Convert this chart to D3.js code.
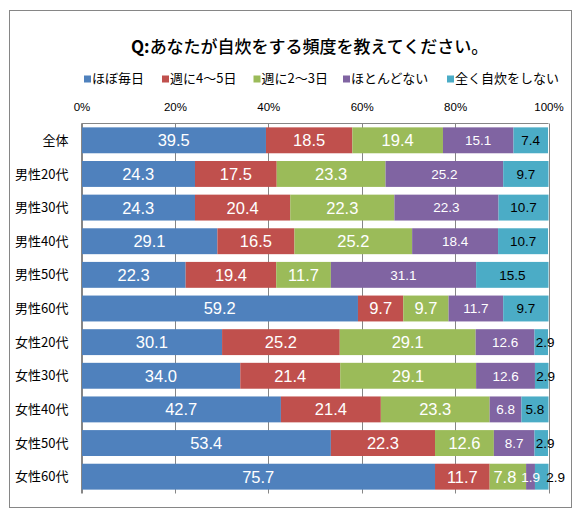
<!DOCTYPE html>
<html><head><meta charset="utf-8">
<script src="https://cdn.jsdelivr.net/npm/d3@7/dist/d3.min.js"></script>
<style>
html,body{margin:0;padding:0;background:#fff;}
svg{display:block;}
</style></head>
<body><svg id="c" width="583" height="515"></svg>
<script>
const title = "Q:あなたが自炊をする頻度を教えてください。";
const categories = ["全体","男性20代","男性30代","男性40代","男性50代","男性60代","女性20代","女性30代","女性40代","女性50代","女性60代"];
const seriesNames = ["ほぼ毎日","週に4〜5日","週に2〜3日","ほとんどない","全く自炊をしない"];
const seriesColors = ["#4F81BD","#C0504D","#9BBB59","#8064A2","#4BACC6"];
const daily   = [39.5,24.3,24.3,29.1,22.3,59.2,30.1,34.0,42.7,53.4,75.7];
const w4to5   = [18.5,17.5,20.4,16.5,19.4,9.7,25.2,21.4,21.4,22.3,11.7];
const w2to3   = [19.4,23.3,22.3,25.2,11.7,9.7,29.1,29.1,23.3,12.6,7.8];
const rarely  = [15.1,25.2,22.3,18.4,31.1,11.7,12.6,12.6,6.8,8.7,1.9];
const never   = [7.4,9.7,10.7,10.7,15.5,9.7,2.9,2.9,5.8,2.9,2.9];
const tickValues = [0,20,40,60,80,100];

(function(){
const values = [daily,w4to5,w2to3,rarely,never];
const svg = d3.select("#c");
const JP = "'Noto Sans CJK JP','Noto Sans',sans-serif";
const NUM = "'Liberation Sans',Arial,sans-serif";

// outer border
svg.append("rect").attr("x",9.5).attr("y",10.5).attr("width",562).attr("height",497)
  .attr("fill","#fff").attr("stroke","#868686").attr("stroke-width",1);

const pL = 81.5, pR = 548.5, pT = 123.5, pB = 493.5;
const x = d3.scaleLinear().domain([0,100]).range([pL,pR]);
const y = d3.scaleBand().domain(categories).range([pT,pB]).paddingInner(0.23).paddingOuter(0.115);

// title
const t = svg.append("text").attr("x",131).attr("y",53).attr("font-family",JP).attr("font-size",17).attr("fill","#000");
t.append("tspan").attr("font-weight","bold").text(title.slice(0,2));
t.append("tspan").attr("font-weight","500").text(title.slice(2));

// legend
const legX = [84,162,253.5,343,447];
seriesNames.forEach((n,i)=>{
  svg.append("rect").attr("x",legX[i]).attr("y",75.5).attr("width",7).attr("height",7).attr("fill",seriesColors[i]);
  svg.append("text").attr("x",legX[i]+8).attr("y",83).attr("font-family",JP).attr("font-size",13).text(n);
});

// gridlines
svg.append("g").selectAll("line").data(tickValues).join("line")
  .attr("x1",d=>Math.round(x(d))+0.5).attr("x2",d=>Math.round(x(d))+0.5)
  .attr("y1",pT).attr("y2",pB).attr("stroke","#868686").attr("stroke-width",1);
svg.append("line").attr("x1",pL).attr("x2",pR).attr("y1",pT).attr("y2",pT).attr("stroke","#868686");

// top axis labels
const axis = d3.axisTop(x).tickValues(tickValues).tickFormat(d=>d+"%").tickSize(0).tickPadding(0);
const ag = svg.append("g").attr("transform",`translate(0,111)`).call(axis);
ag.select(".domain").remove();
ag.selectAll("text").attr("font-family",NUM).attr("font-size",11.5).attr("fill","#000").attr("dy","0");

// category axis
const yAxis = d3.axisLeft(y).tickSize(0).tickPadding(13);
const yg = svg.append("g").attr("transform",`translate(${pL},0)`).call(yAxis);
yg.select(".domain").remove();
yg.selectAll("text").attr("font-family",JP).attr("font-size",13).attr("fill","#000").attr("dy","0.35em");

// stacked bars
const rows = categories.map((c,ci)=>{
  let cum = 0;
  return values.map((arr,si)=>{ const v = arr[ci]; const seg = {c, si, v, x0:cum, x1:cum+v}; cum += v; return seg; });
});
const segs = rows.flat();
svg.append("g").selectAll("rect").data(segs).join("rect")
  .attr("x",d=>x(d.x0)).attr("width",d=>x(d.x1)-x(d.x0))
  .attr("y",d=>y(d.c)).attr("height",y.bandwidth())
  .attr("fill",d=>seriesColors[d.si]);

// left axis line
svg.append("line").attr("x1",pL).attr("x2",pL).attr("y1",pT).attr("y2",pB).attr("stroke","#868686");

// data labels
svg.append("g").selectAll("text").data(segs).join("text")
  .attr("x",d=>{
    let cx = (x(d.x0)+x(d.x1))/2;
    if (d.si===4 && d.v<4) cx += (d.c==="女性60代") ? 14 : 4;
    if (d.si===2 && d.v<9) cx -= 3;
    return cx;
  })
  .attr("y",d=>y(d.c)+y.bandwidth()/2)
  .attr("dy","0.36em")
  .attr("text-anchor","middle")
  .attr("font-family",NUM)
  .attr("font-size",d=>d.si>=3 ? 13.5 : 16.5)
  .attr("fill",d=>d.si===4 ? "#000" : "#fff")
  .text(d=>d.v.toFixed(1));
})();
</script></body></html>
